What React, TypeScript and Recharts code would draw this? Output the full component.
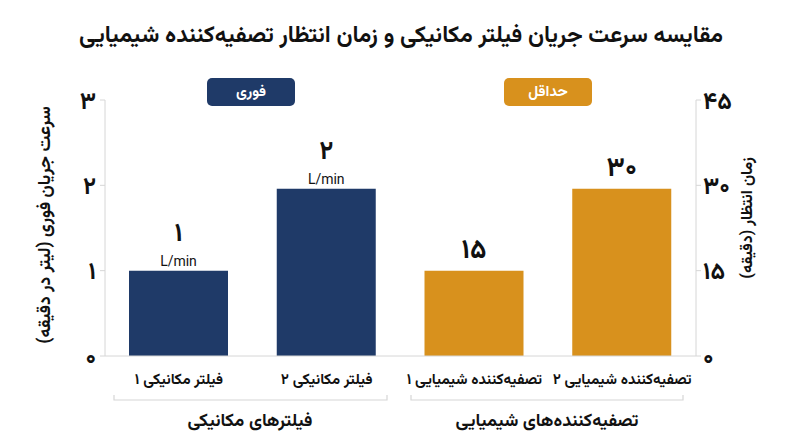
import { Bar, BarChart, LabelList, XAxis, YAxis } from "recharts";

const categories = [
  "فیلتر مکانیکی ۱",
  "فیلتر مکانیکی ۲",
  "تصفیه\u200cکننده شیمیایی ۱",
  "تصفیه\u200cکننده شیمیایی ۲",
];
// flow rate (L/min) for the mechanical filters, wait time (min) for the chemical ones
const flowValues = [1, 1.96, null, null];
const waitValues = [null, null, 15, 29.4];
const flowLabels = ["۱", "۲", null, null];
const waitLabels = [null, null, "۱۵", "۳۰"];
const leftTicks = [0, 1, 2, 3];
const rightTicks = [0, 15, 30, 45];

const NAVY = "#1f3a68";
const ORANGE = "#d8911d";
const AXIS = "#d6d6d6";
const FONT = "Vazirmatn, 'DejaVu Sans', sans-serif";

const faDigits = (n: number) => String(n).replace(/\d/g, (d) => "۰۱۲۳۴۵۶۷۸۹"[Number(d)]);

const rows = categories.map((name, i) => ({
  name,
  flow: flowValues[i],
  wait: waitValues[i],
  flowLabel: flowLabels[i],
  waitLabel: waitLabels[i],
}));

const tickStyle = { fontSize: 24, fontWeight: 700, fill: "#111", fontFamily: FONT };

function CategoryTick({ x, y, payload }: any) {
  return (
    <text x={x} y={y} dy={20} textAnchor="middle" direction="rtl" fontSize={15} fontWeight={700} fill="#111" fontFamily={FONT}>
      {payload.value}
    </text>
  );
}

function FlowLabel({ x, y, width, value }: any) {
  if (!value) return null;
  const cx = x + width / 2;
  return (
    <g>
      <text x={cx} y={y - 36} textAnchor="middle" dominantBaseline="central" fontSize={26} fontWeight={700} fill="#111" fontFamily={FONT}>
        {value}
      </text>
      <text x={cx} y={y - 10} textAnchor="middle" dominantBaseline="central" fontSize={14} fill="#111" fontFamily="Roboto, sans-serif">
        L/min
      </text>
    </g>
  );
}

function WaitLabel({ x, y, width, value }: any) {
  if (!value) return null;
  return (
    <text x={x + width / 2} y={y - 19} textAnchor="middle" dominantBaseline="central" fontSize={27} fontWeight={700} fill="#111" fontFamily={FONT}>
      {value}
    </text>
  );
}

function Overlay() {
  const txt = { textAnchor: "middle", dominantBaseline: "central", direction: "rtl", fontWeight: 700, fontFamily: FONT } as any;
  return (
    <svg width={800} height={447} style={{ position: "absolute", left: 0, top: 0, pointerEvents: "none" }}>
      <text x={401} y={36} {...txt} fontSize={23} fill="#111">
        مقایسه سرعت جریان فیلتر مکانیکی و زمان انتظار تصفیه‌کننده شیمیایی
      </text>

      <rect x={207} y={78} width={88} height={28} rx={5} fill={NAVY} />
      <text x={251} y={92} {...txt} fontSize={15} fill="#fff">
        فوری
      </text>
      <rect x={504} y={78} width={88} height={28} rx={5} fill={ORANGE} />
      <text x={548} y={92} {...txt} fontSize={15} fill="#fff">
        حداقل
      </text>

      <text transform="translate(45,225) rotate(-90)" {...txt} fontSize={17.5} fill="#111">
        سرعت جریان فوری (لیتر در دقیقه)
      </text>
      <text transform="translate(748,218) rotate(-90)" {...txt} fontSize={16} fill="#111">
        زمان انتظار (دقیقه)
      </text>

      <path d="M114 395 V400 H387 V395" fill="none" stroke={AXIS} strokeWidth={1.2} />
      <path d="M411 395 V400 H683 V395" fill="none" stroke={AXIS} strokeWidth={1.2} />
      <text x={250} y={422} {...txt} fontSize={18} fill="#111">
        فیلترهای مکانیکی
      </text>
      <text x={547} y={422} {...txt} fontSize={18} fill="#111">
        تصفیه‌کننده‌های شیمیایی
      </text>
    </svg>
  );
}

export default function App() {
  return (
    <div style={{ position: "absolute", left: 0, top: 0, width: 800, height: 447, background: "#fff" }}>
      <BarChart width={800} height={447} data={rows} margin={{ top: 100, right: 44, bottom: 51, left: 45 }}>
        <XAxis xAxisId="a" dataKey="name" height={40} axisLine={{ stroke: AXIS }} tickLine={false} tick={<CategoryTick />} interval={0} />
        <XAxis xAxisId="b" dataKey="name" hide />
        <YAxis
          yAxisId="left"
          orientation="left"
          width={60}
          domain={[0, 3]}
          ticks={leftTicks}
          tickFormatter={faDigits}
          tick={tickStyle}
          tickSize={5}
          tickMargin={4}
          axisLine={{ stroke: AXIS }}
          tickLine={{ stroke: AXIS }}
        />
        <YAxis
          yAxisId="right"
          orientation="right"
          width={60}
          domain={[0, 45]}
          ticks={rightTicks}
          tickFormatter={faDigits}
          tick={tickStyle}
          tickSize={5}
          tickMargin={2}
          axisLine={{ stroke: AXIS }}
          tickLine={{ stroke: AXIS }}
        />
        <Bar dataKey="flow" xAxisId="a" yAxisId="left" fill={NAVY} barSize={99} isAnimationActive={false}>
          <LabelList dataKey="flowLabel" content={<FlowLabel />} />
        </Bar>
        <Bar dataKey="wait" xAxisId="b" yAxisId="right" fill={ORANGE} barSize={99} isAnimationActive={false}>
          <LabelList dataKey="waitLabel" content={<WaitLabel />} />
        </Bar>
      </BarChart>
      <Overlay />
    </div>
  );
}
